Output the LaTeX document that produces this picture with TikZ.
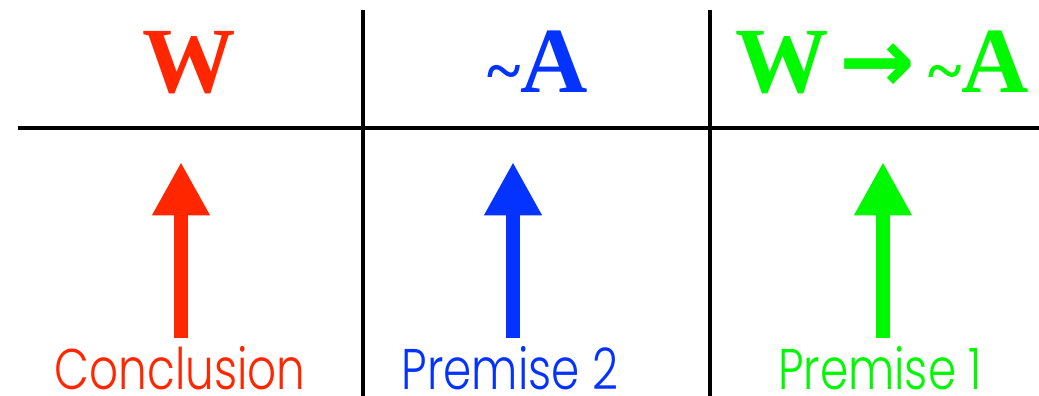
\documentclass[tikz,border=0pt]{standalone}
\usepackage{fontspec}
\setmainfont{Liberation Serif}
\newfontfamily\labelfont{Poppins Light}[FakeStretch=0.79]
\newfontfamily\arrowfont{DejaVu Sans}
\usetikzlibrary{arrows.meta, positioning, calc}
\definecolor{concred}{HTML}{FF2600}
\definecolor{premblue}{HTML}{0433FF}
\definecolor{premgreen}{HTML}{00F900}
\newcommand{\smalltilde}{{\fontsize{48}{48}\selectfont\textasciitilde}}

\begin{document}
\begin{tikzpicture}[x=0.75pt, y=-0.75pt,
    rule/.style={line width=3pt, black},
    head/.style={inner sep=0pt, anchor=base, font=\fontsize{70}{70}\selectfont\bfseries},
    caption/.style={inner sep=0pt, anchor=base, font=\labelfont\fontsize{43}{43}\selectfont},
    uparrow/.style={line width=10.5pt, -{Triangle[width=40.5pt, length=40pt]}}]
    \useasboundingbox (0,0) rectangle (1039,396);
    % table rules
    \draw[rule] (18,128) -- (1039,128);
    \draw[rule] (363,10) -- (363,396);
    \draw[rule] (710,10) -- (710,396);
    % headers
    \node[head, text=concred] (hW) at (189,92) {W};
    \node[head, text=premblue] (hA) at (538,92) {\smalltilde A};
    \node[head, text=premgreen] (hWA) at (882,92) {W\hspace{8pt}{\arrowfont\fontsize{68}{68}\selectfont →}\hspace{10pt}\smalltilde A};
    % captions
    \node[caption, text=concred] (cC) at (180,389) {Conclusion};
    \node[caption, text=premblue] (cP2) at (510,389) {Premise 2};
    \node[caption, text=premgreen] (cP1) at (880,389) {Premise 1};
    % arrows
    \coordinate (tC) at (181,162);
    \coordinate (tP2) at (513,162);
    \coordinate (tP1) at (883,162);
    \draw[uparrow, concred] (181,338) -- (tC);
    \draw[uparrow, premblue] (513,338) -- (tP2);
    \draw[uparrow, premgreen] (883,338) -- (tP1);
\end{tikzpicture}
\end{document}
